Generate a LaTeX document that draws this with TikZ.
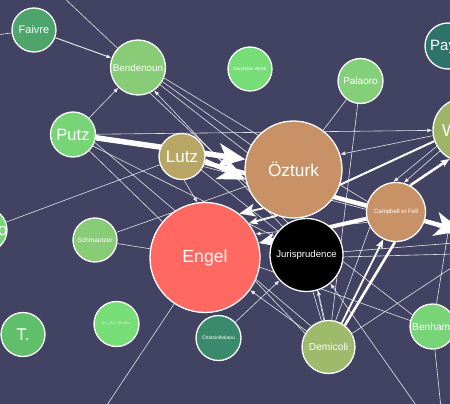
\documentclass[tikz,border=0pt]{standalone}
\usepackage{fontspec}
\setmainfont{Liberation Sans}
\usepackage{xcolor}
\usepackage{tikz}
\usetikzlibrary{arrows.meta}

\definecolor{bgblue}{HTML}{424262}
\definecolor{cFaivre}{HTML}{4DA56C}
\definecolor{cBend}{HTML}{88CC77}
\definecolor{cGary}{HTML}{77DD77}
\definecolor{cPal}{HTML}{84D07A}
\definecolor{cPay}{HTML}{2E726C}
\definecolor{cPutz}{HTML}{77D577}
\definecolor{cLutz}{HTML}{B8A665}
\definecolor{cOzt}{HTML}{C99266}
\definecolor{cW}{HTML}{A0B468}
\definecolor{cEngel}{HTML}{FF6961}
\definecolor{cT}{HTML}{5FBF6B}
\definecolor{cChatz}{HTML}{3A8A6E}
\definecolor{cDemi}{HTML}{9DBB6A}

\newcommand{\fs}[1]{\fontsize{#1}{#1}\selectfont}

\pgfdeclarelayer{bg}
\pgfdeclarelayer{edges}
\pgfsetlayers{bg,edges,main}

\begin{document}
\begin{tikzpicture}[x=1pt, y=-1pt, >=latex,
    person/.style={circle, draw=white, line width=1.3pt, minimum size=#1, inner sep=0pt, text=white},
    cut/.style={inner sep=0pt, text=white},
    link/.style={draw=white, line width=0.6pt, opacity=0.85},
    arr/.style={link, -{Latex[length=5pt,width=4pt]}},
    heavy/.style={draw=white, line width=#1},
    tipL/.style={-{Stealth[length=27pt,width=24pt,inset=7pt]}},
    tipM/.style={-{Stealth[length=16pt,width=13pt,inset=4pt]}},
    tipS/.style={-{Stealth[length=9pt,width=7pt,inset=2pt]}}]

    \useasboundingbox (0,0) rectangle (450,404);
    \begin{pgfonlayer}{bg}
    \fill[bgblue] (0,0) rectangle (450,404);
    \end{pgfonlayer}

    % people
    \node[person=44pt, fill=cFaivre, font=\fs{11}] (faivre) at (34,30) {Faivre};
    \node[person=55pt, fill=cBend, font=\fs{9.8}] (bend) at (138,67.5) {Bendenoun};
    \node[person=44pt, fill=cGary, font=\fs{4.4}] (gary) at (250,69) {Garyfallou AESE};
    \node[person=45pt, fill=cPal, font=\fs{10}] (pal) at (360.5,81) {Palaoro};
    \node[person=46pt, fill=cPay] (pay) at (448,46) {};
    \node[cut, anchor=west, font=\fs{15}] (paylbl) at (430,47) {Pay};
    \node[person=45pt, fill=cPutz, font=\fs{16.5}] (putz) at (73,134.5) {Putz};
    \node[person=46pt, fill=cLutz, font=\fs{17}] (lutz) at (182,156.5) {Lutz};
    \node[person=97pt, fill=cOzt, font=\fs{17.3}] (ozt) at (293.5,169.5) {Özturk};
    \node[person=64pt, fill=cW] (w) at (465,130) {};
    \node[cut, anchor=west, font=\fs{17}] (wlbl) at (442,131) {W};
    \node[person=59pt, fill=cOzt, font=\fs{6.1}] (camp) at (396,212) {Campbell et Fell};
    \node[person=110pt, fill=cEngel, font=\fs{17.6}] (engel) at (205,257.5) {Engel};
    \node[person=73pt, fill=black, font=\fs{9.6}] (juris) at (306.5,255) {Jurisprudence};
    \node[person=44pt, fill=cPutz] (lefto) at (-15,230) {};
    \node[cut, anchor=east, font=\fs{17}] (leftlbl) at (7.5,231) {o};
    \node[person=44pt, fill=cBend, font=\fs{6.6}] (schm) at (95,240) {Schmautzer};
    \node[person=45pt, fill=cGary, font=\fs{3.4}] (sl) at (116.5,324) {S.L., P.L., ST, AS-L};
    \node[person=44pt, fill=cT, font=\fs{17}] (t) at (23,334.5) {T.};
    \node[person=45pt, fill=cChatz, font=\fs{5}] (chatz) at (218.5,338) {Chatzinikolaou};
    \node[person=53pt, fill=cDemi, font=\fs{10.2}] (demi) at (328.5,347) {Demicoli};
    \node[person=45pt, fill=cPutz] (ben) at (432.5,326.5) {};
    \node[cut, anchor=west, font=\fs{10.2}] (benlbl) at (412,327) {Benham};

    % off-picture ends
    \coordinate (offTL) at (62,-4);
    \coordinate (offL) at (-4,35);
    \coordinate (offB) at (105,408);
    \coordinate (offB2) at (441,408);
    \coordinate (offB3) at (418,408);
    \coordinate (offR) at (462,231);
    \coordinate (offR2) at (454,243);
    \coordinate (offR3) at (454,254);
    \coordinate (offR4) at (454,266);
    \coordinate (offR5) at (454,236);

    \begin{pgfonlayer}{edges}
    % thin links
    \draw[link] (offTL) -- (bend);
    \draw[link] (offL) -- (faivre);
    \draw[arr, line width=1pt] (faivre) -- (bend);
    \draw[arr] (putz) -- (bend);
    \draw[link] (bend.-30) -- (ozt.150);
    \draw[link] (bend.-38) -- (ozt.160);
    \draw[link] (bend.-22) -- (camp.160);
    \draw[arr] (juris.130) -- (bend.-55);
    \draw[link] (bend.-65) -- (juris.120);
    \draw[arr] (putz) -- (w);
    \draw[link] (putz.-45) -- (engel.140);
    \draw[link] (putz.-30) -- (juris.150);
    \draw[link] (putz.-20) -- (demi.130);
    \draw[arr] (lutz.-85) -- (engel.98);
    \draw[link] (lutz.-35) -- (juris.140);
    \draw[link] (lutz.-25) -- (camp.175);
    \draw[link] (lefto) -- (lutz);
    \draw[link] (schm) -- (ozt);
    \draw[link] (schm) -- (engel);
    \draw[link] (engel) -- (offB);
    \draw[arr] (chatz) -- (juris);
    \draw[arr] (demi) -- (engel);
    \draw[link] (engel.-25) -- (demi.150);
    \draw[link] (engel.-10) -- (ben.165);
    \draw[link] (demi.105) -- (juris.-80);
    \draw[arr] (demi.98) -- (juris.-72);
    \draw[link] (pal) -- (demi);
    \draw[link] (pal) -- (ozt);
    \draw[arr] (w.190) -- (ozt.18);
    \draw[arr] (w.-140) -- (camp.75);
    \draw[arr] (w.-150) -- (camp.95);
    \draw[link] (w.-100) -- (ben.80);
    \draw[link] (juris.-10) -- (ben.150);
    \draw[link] (juris.5) -- (offR2);
    \draw[link] (juris.-3) -- (offR3);
    \draw[link] (demi.30) -- (offR4);
    \draw[link] (camp.-15) -- (offR5);
    \draw[link] (ben) -- (offB2);
    \draw[arr] (offB3) -- (juris.-50);
    \draw[link] (ozt.-80) -- (demi.100);
    \draw[link] (camp.-150) -- (demi.75);
    \draw[arr] (camp.200) -- (engel.25);
    % heavy links
    \draw[heavy=5.5pt, tipL] (putz) -- (ozt.168);
    \draw[heavy=4pt, tipL] (lutz.-10) -- (ozt.192);
    \draw[heavy=4.5pt, tipL] (lutz) -- (offR);
    \draw[heavy=4pt, tipM] (camp) -- (engel.15);
    \draw[heavy=1.8pt, tipM] (ozt.-128) -- (engel.52);
    \draw[heavy=1.8pt, tipS] (ozt.-110) -- (engel.38);
    \draw[heavy=2.5pt, tipS] (camp.62) -- (w.-118);
    \draw[heavy=2pt] (w.200) -- (ozt.-18);
    \draw[heavy=1.8pt, tipS] (demi.61) -- (camp.-115);
    \draw[heavy=2.6pt] (demi.53) -- (camp.-92);
    \end{pgfonlayer}

\end{tikzpicture}
\end{document}
